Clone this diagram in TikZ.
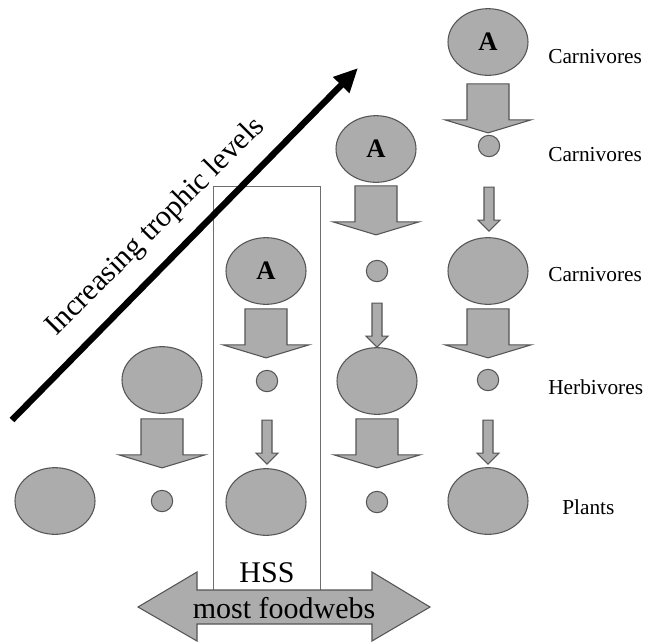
\documentclass[tikz,border=0pt]{standalone}
\usepackage{fontspec}
\setmainfont{Liberation Serif}
\usetikzlibrary{shapes.geometric,arrows.meta,calc}
\definecolor{blobfill}{RGB}{172,172,172}
\definecolor{blobline}{RGB}{85,85,85}
\definecolor{boxline}{RGB}{110,110,110}
\begin{document}
\begin{tikzpicture}[x=0.75pt,y=-0.75pt,
  bigblob/.style={ellipse,draw=blobline,fill=blobfill,line width=0.8pt,
    minimum width=60pt,minimum height=50pt,inner sep=0pt,
    font=\fontsize{20}{20}\selectfont\bfseries},
  smallblob/.style={circle,draw=blobline,fill=blobfill,line width=0.8pt,
    minimum size=16pt,inner sep=0pt},
  tierlabel/.style={anchor=west,inner sep=0pt,font=\fontsize{16}{16}\selectfont},
  blockarrow/.style={draw=blobline,fill=blobfill,line width=0.8pt,line join=miter},
  bigdown/.pic={\path[blockarrow] (-21,0) -- (21,0) -- (21,36) -- (43,36) -- (0,49)
    -- (-43,36) -- (-21,36) -- cycle;},
  smalldown/.pic={\path[blockarrow] (-5,0) -- (5,0) -- (5,33) -- (11,33) -- (0,44)
    -- (-11,33) -- (-5,33) -- cycle;}
]
\useasboundingbox (0,0) rectangle (649,643);

% HSS frame around the third food web
\draw[boxline,line width=0.6pt] (213,186) rectangle (320,600);

% food web 5
\node[bigblob]   (e1) at (488,42)  {A};
\node[smallblob] (e2) at (489,146) {};
\node[bigblob]   (e3) at (488,271) {};
\node[smallblob] (e4) at (488,380) {};
\node[bigblob]   (e5) at (488,501) {};
\pic at ($(e1.south)+(0,8)$)  {bigdown};
\pic at ($(e2.south)+(0,30)$) {smalldown};
\pic at ($(e3.south)+(0,4)$)  {bigdown};
\pic at ($(e4.south)+(0,29)$) {smalldown};

% food web 4
\node[bigblob]   (d1) at (376,149) {A};
\node[smallblob] (d2) at (377,271) {};
\node[bigblob]   (d3) at (377,381) {};
\node[smallblob] (d4) at (377,502) {};
\pic at ($(d1.south)+(0,3)$)  {bigdown};
\pic at ($(d2.south)+(0,21)$) {smalldown};
\pic at ($(d3.south)+(0,4)$)  {bigdown};

% food web 3 (HSS)
\node[bigblob]   (c1) at (266,271) {A};
\node[smallblob] (c2) at (267,381) {};
\node[bigblob]   (c3) at (266,502) {};
\pic at ($(c1.south)+(0,4)$)  {bigdown};
\pic at ($(c2.south)+(0,28)$) {smalldown};

% food web 2
\node[bigblob]   (b1) at (162,380) {};
\node[smallblob] (b2) at (162,501) {};
\pic at ($(b1.south)+(0,5)$)  {bigdown};

% food web 1
\node[bigblob]   (a1) at (55,501) {};

% trophic level labels
\node[tierlabel] (t1) at (548,57)  {Carnivores};
\node[tierlabel] (t2) at (548,155) {Carnivores};
\node[tierlabel] (t3) at (548,275) {Carnivores};
\node[tierlabel] (t4) at (548,387) {Herbivores};
\node[tierlabel] (t5) at (562,507) {Plants};

% increasing trophic levels arrow
\coordinate (tailpt) at (12,420);
\coordinate (tippt) at (358,68);
\draw[line width=4.8pt,-{Triangle[length=18pt,width=16pt]}] (tailpt) -- (tippt);
\node[rotate=45,font=\fontsize{22.5}{22.5}\selectfont] (inc) at (156,227)
  {Increasing trophic levels};

% most foodwebs double arrow
\path[blockarrow] (138,607) -- (197,572) -- (197,590) -- (372,590) -- (372,572)
  -- (430,607) -- (372,641) -- (372,624) -- (197,624) -- (197,641) -- cycle;
\node[font=\fontsize{22.5}{22.5}\selectfont] (hss) at (267,573) {HSS};
\node[font=\fontsize{22.5}{22.5}\selectfont] (most) at (284,608) {most foodwebs};
\end{tikzpicture}
\end{document}
